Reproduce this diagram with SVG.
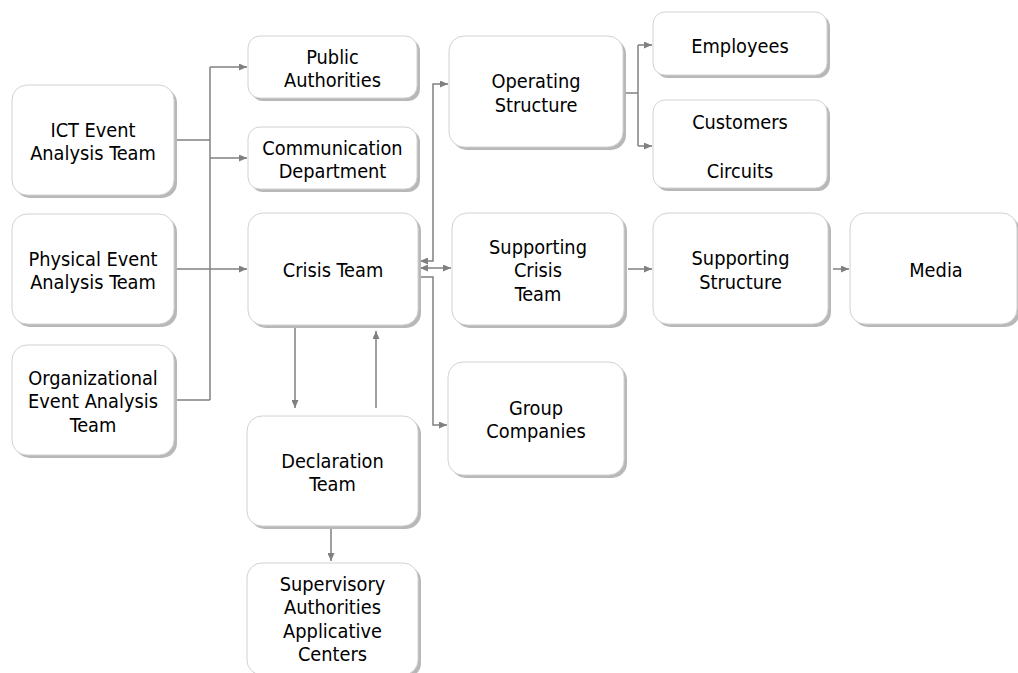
<svg xmlns="http://www.w3.org/2000/svg" width="1018" height="673" viewBox="0 0 1018 673">
  <defs>
    <marker id="arrow" viewBox="0 0 8 7" refX="8" refY="3.5" markerWidth="8" markerHeight="7" markerUnits="userSpaceOnUse" orient="auto-start-reverse">
      <path d="M0,0 L8,3.5 L0,7 z" fill="#808080"/>
    </marker>
    <filter id="soft" x="-10%" y="-10%" width="120%" height="120%">
      <feGaussianBlur stdDeviation="0.7"/>
    </filter>
  </defs>
  <style>
    .shadow { fill: #b8b8b8; filter: url(#soft); }
    .box { fill: #ffffff; stroke: #d2d2d2; stroke-width: 1; }
    .label { font-family: "DejaVu Sans Condensed", "DejaVu Sans", sans-serif; font-size: 19.8px; fill: #000000; text-anchor: middle; }
    .conn path { fill: none; stroke: #808080; stroke-width: 1.5; }
    .arr { marker-end: url(#arrow); }
    .both { marker-start: url(#arrow); marker-end: url(#arrow); }
  </style>
  <rect width="1018" height="673" fill="#ffffff"/>

  <!-- connectors -->
  <g id="connectors" class="conn">
    <path d="M174,140 H210"/>
    <path d="M174,400 H210"/>
    <path d="M210,67 V400"/>
    <path class="arr" d="M210,67 H247"/>
    <path class="arr" d="M210,158 H247"/>
    <path class="arr" d="M174,269 H247"/>
    <path class="both" d="M420,261 H433 V84 H448"/>
    <path class="both" d="M420,268 H451"/>
    <path class="arr" d="M419,277 H433 V425 H447"/>
    <path class="arr" d="M295,326 V408"/>
    <path class="arr" d="M376,408 V331"/>
    <path class="arr" d="M331,528 V561"/>
    <path d="M624,93 H638"/>
    <path d="M638,45 V146"/>
    <path class="arr" d="M638,45 H652"/>
    <path class="arr" d="M638,146 H652"/>
    <path class="arr" d="M628,269 H652"/>
    <path class="arr" d="M833,269 H849"/>
  </g>

  <!-- nodes -->
  <g id="ict">
    <rect class="shadow" x="15" y="88" width="162" height="110" rx="15"/>
    <rect class="box" x="12" y="85" width="162" height="110" rx="15"/>
    <text class="label"><tspan x="93" y="136.5">ICT Event</tspan><tspan x="93" y="160">Analysis Team</tspan></text>
  </g>
  <g id="physical">
    <rect class="shadow" x="15" y="217" width="162" height="110" rx="15"/>
    <rect class="box" x="12" y="214" width="162" height="110" rx="15"/>
    <text class="label"><tspan x="93" y="265.5">Physical Event</tspan><tspan x="93" y="289">Analysis Team</tspan></text>
  </g>
  <g id="organizational">
    <rect class="shadow" x="15" y="348" width="162" height="110" rx="15"/>
    <rect class="box" x="12" y="345" width="162" height="110" rx="15"/>
    <text class="label"><tspan x="93" y="384.5">Organizational</tspan><tspan x="93" y="408">Event Analysis</tspan><tspan x="93" y="431.5">Team</tspan></text>
  </g>
  <g id="public-authorities">
    <rect class="shadow" x="251" y="39" width="169" height="62" rx="12"/>
    <rect class="box" x="248" y="36" width="169" height="62" rx="12"/>
    <text class="label"><tspan x="332.5" y="63.5">Public</tspan><tspan x="332.5" y="87">Authorities</tspan></text>
  </g>
  <g id="communication">
    <rect class="shadow" x="251" y="130" width="169" height="62" rx="12"/>
    <rect class="box" x="248" y="127" width="169" height="62" rx="12"/>
    <text class="label"><tspan x="332.5" y="154.5">Communication</tspan><tspan x="332.5" y="178">Department</tspan></text>
  </g>
  <g id="crisis-team">
    <rect class="shadow" x="251" y="216" width="170" height="112" rx="15"/>
    <rect class="box" x="248" y="213" width="170" height="112" rx="15"/>
    <text class="label" x="333" y="277">Crisis Team</text>
  </g>
  <g id="declaration-team">
    <rect class="shadow" x="250" y="419" width="171" height="110" rx="15"/>
    <rect class="box" x="247" y="416" width="171" height="110" rx="15"/>
    <text class="label"><tspan x="332.5" y="467.5">Declaration</tspan><tspan x="332.5" y="491">Team</tspan></text>
  </g>
  <g id="supervisory">
    <rect class="shadow" x="250" y="566" width="171" height="112" rx="15"/>
    <rect class="box" x="247" y="563" width="171" height="112" rx="15"/>
    <text class="label"><tspan x="332.5" y="590.5">Supervisory</tspan><tspan x="332.5" y="614">Authorities</tspan><tspan x="332.5" y="637.5">Applicative</tspan><tspan x="332.5" y="661">Centers</tspan></text>
  </g>
  <g id="operating-structure">
    <rect class="shadow" x="452" y="39" width="174" height="111" rx="15"/>
    <rect class="box" x="449" y="36" width="174" height="111" rx="15"/>
    <text class="label"><tspan x="536" y="88">Operating</tspan><tspan x="536" y="111.5">Structure</tspan></text>
  </g>
  <g id="employees">
    <rect class="shadow" x="656" y="15" width="174" height="63" rx="12"/>
    <rect class="box" x="653" y="12" width="174" height="63" rx="12"/>
    <text class="label" x="740" y="52.5">Employees</text>
  </g>
  <g id="customers">
    <rect class="shadow" x="656" y="103" width="174" height="88" rx="12"/>
    <rect class="box" x="653" y="100" width="174" height="88" rx="12"/>
    <text class="label"><tspan x="740" y="128.5">Customers</tspan><tspan x="740" y="177.5">Circuits</tspan></text>
  </g>
  <g id="supporting-crisis-team">
    <rect class="shadow" x="455" y="216" width="172" height="112" rx="15"/>
    <rect class="box" x="452" y="213" width="172" height="112" rx="15"/>
    <text class="label"><tspan x="538" y="253.5">Supporting</tspan><tspan x="538" y="277">Crisis</tspan><tspan x="538" y="300.5">Team</tspan></text>
  </g>
  <g id="supporting-structure">
    <rect class="shadow" x="656" y="216" width="175" height="111" rx="15"/>
    <rect class="box" x="653" y="213" width="175" height="111" rx="15"/>
    <text class="label"><tspan x="740.5" y="265">Supporting</tspan><tspan x="740.5" y="288.5">Structure</tspan></text>
  </g>
  <g id="media">
    <rect class="shadow" x="853" y="216" width="167" height="111" rx="15"/>
    <rect class="box" x="850" y="213" width="167" height="111" rx="15"/>
    <text class="label" x="936" y="277">Media</text>
  </g>
  <g id="group-companies">
    <rect class="shadow" x="451" y="365" width="176" height="113" rx="15"/>
    <rect class="box" x="448" y="362" width="176" height="113" rx="15"/>
    <text class="label"><tspan x="536" y="414.5">Group</tspan><tspan x="536" y="438">Companies</tspan></text>
  </g>
</svg>
